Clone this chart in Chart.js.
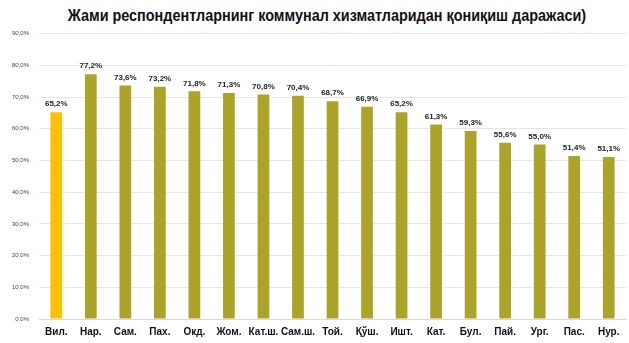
<!DOCTYPE html>
<html>
<head>
<meta charset="utf-8">
<script src="https://cdn.jsdelivr.net/npm/chart.js@4.4.1/dist/chart.umd.min.js"></script>
<style>
  html, body { margin: 0; padding: 0; background: #fff; }
  #wrap { position: relative; width: 629px; height: 343px; overflow: hidden; }
  #title {
    position: absolute; left: 0; right: 0; top: 7px; padding-left: 24px;
    text-align: center; white-space: nowrap;
    font-family: "Liberation Sans", Arial, sans-serif;
    font-weight: bold; font-size: 16px; color: #111;
  }
  #title span { display: inline-block; transform: scaleX(0.9); transform-origin: center; }
  #chartBox { position: absolute; left: 0; top: 20px; width: 629px; height: 325px; }
</style>
</head>
<body>
<div id="wrap">
  <div id="title"><span>Жами респондентларнинг коммунал хизматларидан қониқиш даражаси)</span></div>
  <div id="chartBox"><canvas id="chart"></canvas></div>
</div>
<script>
// Категориялар ва қийматлар
const districts = ["Вил.", "Нар.", "Сам.", "Пах.", "Окд.", "Жом.", "Кат.ш.", "Сам.ш.", "Той.", "Қўш.", "Ишт.", "Кат.", "Бул.", "Пай.", "Ург.", "Пас.", "Нур."];
const satisfaction = [65.2, 77.2, 73.6, 73.2, 71.8, 71.3, 70.8, 70.4, 68.7, 66.9, 65.2, 61.3, 59.3, 55.6, 55.0, 51.4, 51.1];
const barColors = districts.map((d, i) => (i === 0 ? "#FFC000" : "#ABA428"));

const fmt = (v) => v.toFixed(1).replace(".", ",") + "%";

// Устунлар тепасига қиймат ёзиш
const valueLabels = {
  id: "valueLabels",
  afterDatasetsDraw(chart) {
    const { ctx } = chart;
    const meta = chart.getDatasetMeta(0);
    ctx.save();
    ctx.font = "bold 8px 'Liberation Sans', Arial, sans-serif";
    ctx.fillStyle = "#222";
    ctx.textAlign = "center";
    ctx.textBaseline = "bottom";
    meta.data.forEach((bar, i) => {
      ctx.fillText(fmt(satisfaction[i]), bar.x, bar.y - 4);
    });
    ctx.restore();
  },
};

const ctx = document.getElementById("chart").getContext("2d");
new Chart(ctx, {
  type: "bar",
  data: {
    labels: districts,
    datasets: [
      {
        data: satisfaction,
        backgroundColor: barColors,
        barPercentage: 0.34,
        categoryPercentage: 1.0,
      },
    ],
  },
  options: {
    responsive: true,
    maintainAspectRatio: false,
    animation: false,
    layout: { padding: { left: 2, right: 3, top: 4, bottom: 0 } },
    plugins: {
      legend: { display: false },
      tooltip: { enabled: false },
    },
    scales: {
      x: {
        grid: { display: false, drawTicks: false },
        border: { color: "#d9d9d9" },
        ticks: {
          color: "#111",
          font: { family: "'Liberation Sans', Arial, sans-serif", size: 10, weight: "bold" },
          maxRotation: 0,
          autoSkip: false,
          padding: 7,
        },
      },
      y: {
        min: 0,
        max: 90,
        ticks: {
          stepSize: 10,
          color: "#444",
          font: { family: "'Liberation Sans', Arial, sans-serif", size: 6 },
          callback: (v) => v.toFixed(1).replace(".", ",") + "%",
          padding: 10,
        },
        grid: { color: "#e6e6e6", drawTicks: false },
        border: { display: false },
      },
    },
  },
  plugins: [valueLabels],
});
</script>
</body>
</html>
